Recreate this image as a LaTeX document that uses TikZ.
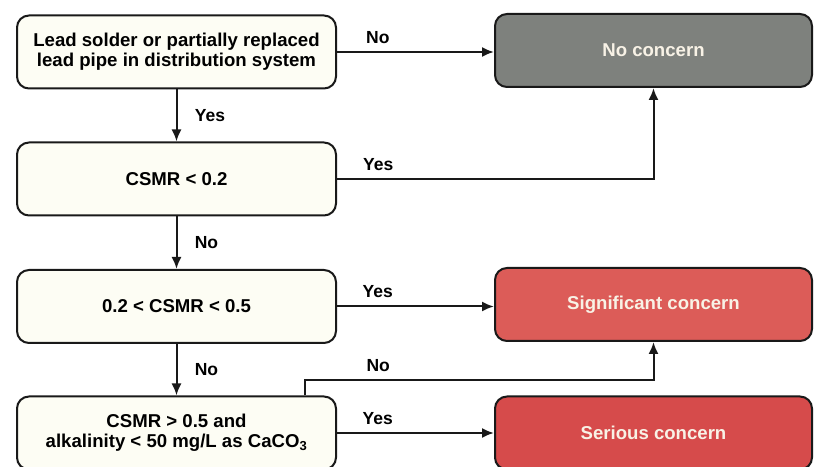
\documentclass[tikz,border=0pt]{standalone}
\usepackage{fontspec}
\setmainfont{Liberation Sans}
\usetikzlibrary{positioning, calc, arrows.meta}

\definecolor{qfill}{HTML}{FDFDF4}
\definecolor{nofill}{HTML}{7E817D}
\definecolor{sigfill}{HTML}{DC5C58}
\definecolor{serfill}{HTML}{D64B4B}
\definecolor{outtext}{HTML}{F8F2E6}

\begin{document}
\begin{tikzpicture}[x=1pt, y=1pt,
    qbox/.style={draw=black!90, line width=2pt, rounded corners=12pt, fill=qfill,
      minimum width=\qboxwidth, minimum height=\qboxheight, align=center,
      font=\fontsize{18.6}{20}\selectfont\bfseries},
    outbox/.style={draw=black!90, line width=2pt, rounded corners=12pt,
      minimum width=\outboxwidth, minimum height=\qboxheight, text=outtext,
      font=\fontsize{18.6}{20}\selectfont\bfseries},
    flow/.style={line width=2pt, draw=black!90, -{Latex[length=12pt, width=10pt]}},
    lbl/.style={font=\fontsize{17.5}{20}\selectfont\bfseries}]
  \newcommand\qboxwidth{319pt}
  \newcommand\outboxwidth{317pt}
  \newcommand\qboxheight{73pt}

  \useasboundingbox (0, 0) rectangle (814, 466);

  % questions down the left
  \node[qbox] at (176.5, 414) (lead) {Lead solder or partially replaced\\lead pipe in distribution system};
  \node[qbox] at (176.5, 287) (csmr1) {CSMR < 0.2};
  \node[qbox] at (176.5, 159.5) (csmr2) {0.2 < CSMR < 0.5};
  \node[qbox] at (176.5, 33) (csmr3) {CSMR > 0.5 and\\alkalinity < 50 mg/L as CaCO\textsubscript{3}};

  % outcomes on the right
  \node[outbox, fill=nofill] at (653.5, 415.5) (nocon) {No concern};
  \node[outbox, fill=sigfill] at (653.5, 161.5) (sigcon) {Significant concern};
  \node[outbox, fill=serfill] at (653.5, 33) (sercon) {Serious concern};

  % vertical arrows
  \draw[flow] (lead) -- node[lbl, right, xshift=14pt] {Yes} (csmr1);
  \draw[flow] (csmr1) -- node[lbl, right, xshift=14pt] {No} (csmr2);
  \draw[flow] (csmr2) -- node[lbl, right, xshift=14pt] {No} (csmr3);

  % horizontal arrows
  \draw[flow] (lead.east) -- node[lbl, above, pos=0.26, yshift=4pt] {No} (lead.east -| nocon.west);
  \draw[flow] (csmr1.east) -| node[lbl, above, pos=0.065, yshift=4pt] {Yes} (nocon.south);
  \draw[flow] (csmr2.east) -- node[lbl, above, pos=0.26, yshift=4pt] {Yes} (csmr2.east -| sigcon.west);
  \draw[flow] ([xshift=-32pt]csmr3.north east) -- ++(0, 15) -| node[lbl, above, pos=0.105, yshift=4pt] {No} (sigcon.south);
  \draw[flow] (csmr3.east) -- node[lbl, above, pos=0.26, yshift=4pt] {Yes} (csmr3.east -| sercon.west);
\end{tikzpicture}
\end{document}
